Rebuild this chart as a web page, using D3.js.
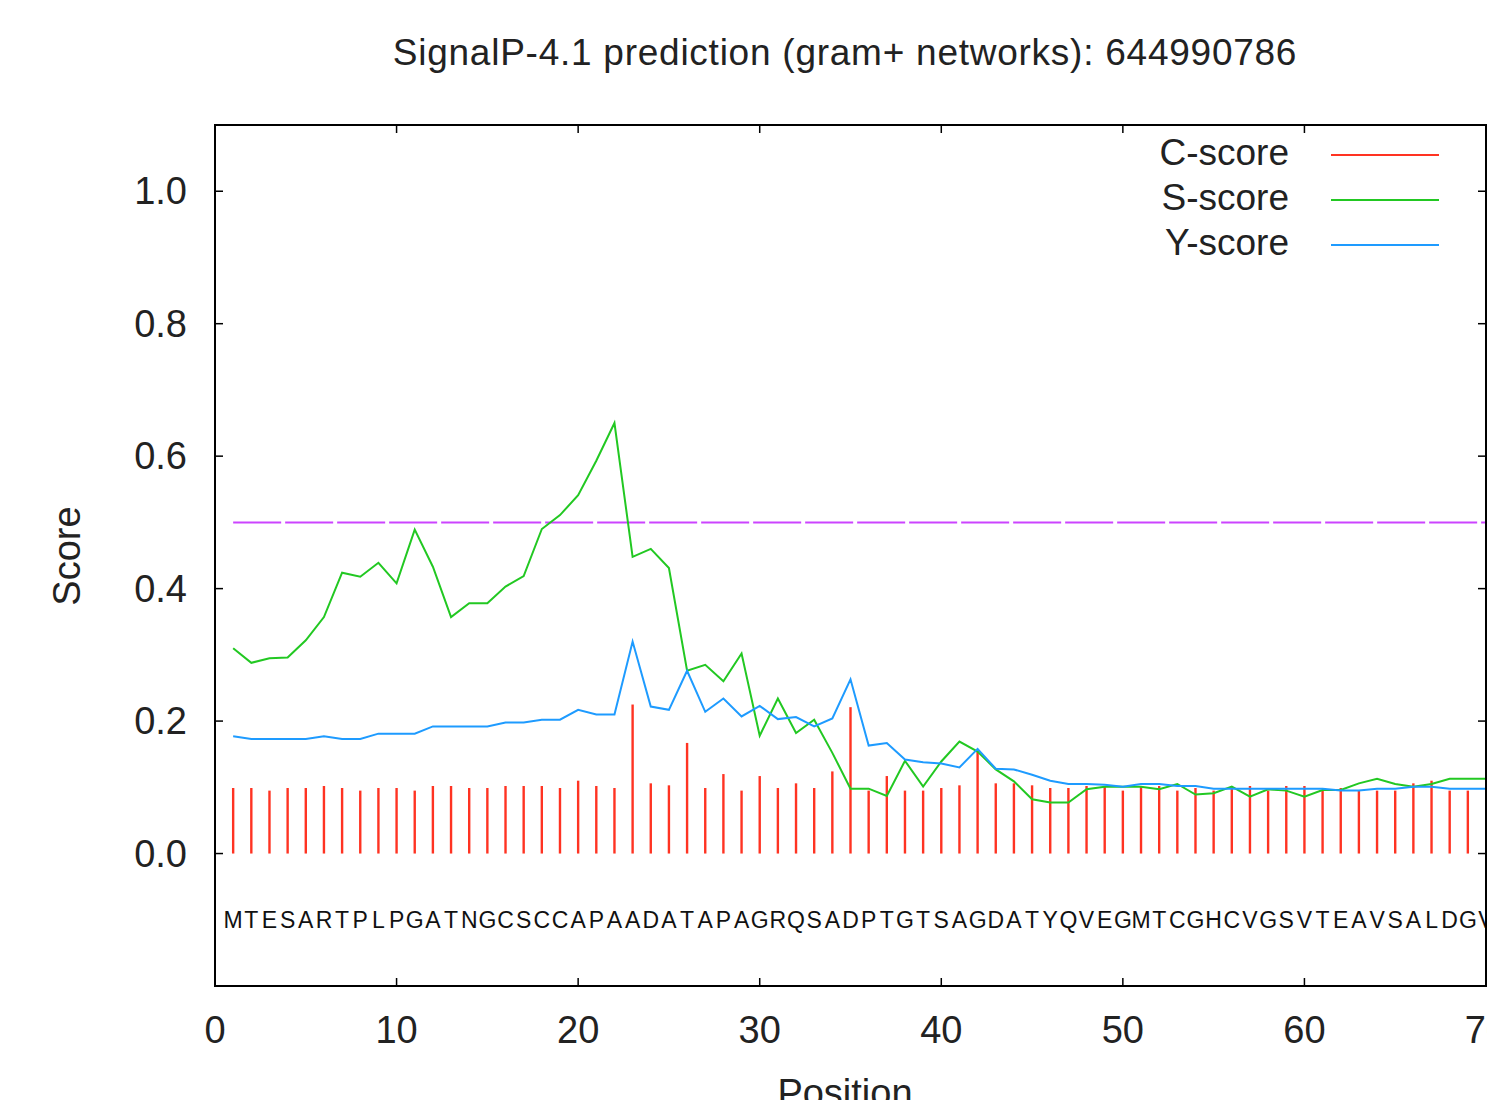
<!DOCTYPE html>
<meta charset="utf-8">
<head>
    <script src="https://d3js.org/d3.v7.min.js"></script>
    <style>
        body { margin: 0; background: #fff; }
        text { font-family: "Liberation Sans", Arial, sans-serif; fill: #222; }
    </style>
</head>
<body>
<div id="main"></div>

<script>
    // amino acid sequence, one letter per position
    const sequence = "MTESARTPLPGATNGCSCCAPAADATAPAGRQSADPTGTSAGDATYQVEGMTCGHCVGSVTEAVSALDGV".split("")

    // C-score (positions 1..69)
    const cScore = [
        0.099, 0.099, 0.095, 0.099, 0.099, 0.102, 0.099, 0.095, 0.099, 0.099,
        0.095, 0.102, 0.102, 0.099, 0.099, 0.102, 0.102, 0.102, 0.099, 0.110,
        0.102, 0.099, 0.225, 0.106, 0.103, 0.167, 0.099, 0.120, 0.095, 0.117,
        0.099, 0.106, 0.099, 0.124, 0.221, 0.095, 0.117, 0.095, 0.095, 0.099,
        0.103, 0.157, 0.106, 0.106, 0.103, 0.099, 0.099, 0.102, 0.102, 0.095,
        0.102, 0.102, 0.095, 0.099, 0.095, 0.102, 0.102, 0.095, 0.102, 0.102,
        0.095, 0.099, 0.095, 0.095, 0.095, 0.106, 0.110, 0.095, 0.095
    ]

    // S-score (positions 1..70)
    const sScore = [
        0.310, 0.288, 0.295, 0.296, 0.322, 0.357, 0.424, 0.418, 0.439, 0.408,
        0.489, 0.433, 0.357, 0.378, 0.378, 0.403, 0.419, 0.490, 0.511, 0.541,
        0.593, 0.650, 0.448, 0.460, 0.431, 0.276, 0.285, 0.260, 0.302, 0.178,
        0.234, 0.182, 0.202, 0.152, 0.098, 0.098, 0.087, 0.140, 0.101, 0.139,
        0.169, 0.154, 0.127, 0.109, 0.082, 0.077, 0.077, 0.097, 0.101, 0.101,
        0.101, 0.097, 0.105, 0.089, 0.091, 0.101, 0.086, 0.097, 0.095, 0.086,
        0.096, 0.096, 0.106, 0.113, 0.105, 0.101, 0.105, 0.113, 0.113, 0.113
    ]

    // Y-score (positions 1..70)
    const yScore = [
        0.177, 0.173, 0.173, 0.173, 0.173, 0.177, 0.173, 0.173, 0.181, 0.181,
        0.181, 0.192, 0.192, 0.192, 0.192, 0.198, 0.198, 0.202, 0.202, 0.217,
        0.210, 0.210, 0.320, 0.222, 0.217, 0.276, 0.214, 0.234, 0.207, 0.223,
        0.203, 0.206, 0.192, 0.204, 0.263, 0.163, 0.167, 0.142, 0.138, 0.136,
        0.130, 0.158, 0.128, 0.127, 0.119, 0.110, 0.105, 0.105, 0.104, 0.101,
        0.105, 0.105, 0.102, 0.102, 0.098, 0.098, 0.098, 0.098, 0.098, 0.098,
        0.098, 0.095, 0.095, 0.098, 0.098, 0.101, 0.101, 0.098, 0.098, 0.098
    ]

    const cutoff = 0.5
    const xTicks = [0, 10, 20, 30, 40, 50, 60, 70]
    const yTicks = [0.0, 0.2, 0.4, 0.6, 0.8, 1.0]
    const legendLabels = ["C-score", "S-score", "Y-score"]
    const colors = ["#ff3322", "#22c822", "#1e9bff"]

    const width = 1487, height = 1100
    const plotLeft = 215, plotTop = 125, plotRight = 1486, plotBottom = 986

    const svg = d3.select("#main").append("svg")
        .attr("width", width)
        .attr("height", height)

    const x = d3.scaleLinear().domain([0, 70]).range([plotLeft, plotRight])
    const y = d3.scaleLinear().domain([-0.2, 1.1]).range([plotBottom, plotTop])

    // title
    svg.append("text")
        .attr("x", 845)
        .attr("y", 65)
        .attr("text-anchor", "middle")
        .style("font-size", "37px")
        .style("letter-spacing", "0.75px")
        .text("SignalP-4.1 prediction (gram+ networks): 644990786")

    // ticks, mirrored and pointing inward
    const tickLen = 8
    const ticks = svg.append("g").attr("stroke", "#000").attr("stroke-width", 1.5)
    xTicks.forEach(t => {
        ticks.append("line").attr("x1", x(t)).attr("x2", x(t)).attr("y1", plotBottom).attr("y2", plotBottom - tickLen)
        ticks.append("line").attr("x1", x(t)).attr("x2", x(t)).attr("y1", plotTop).attr("y2", plotTop + tickLen)
    })
    yTicks.forEach(t => {
        ticks.append("line").attr("x1", plotLeft).attr("x2", plotLeft + tickLen).attr("y1", y(t)).attr("y2", y(t))
        ticks.append("line").attr("x1", plotRight).attr("x2", plotRight - tickLen).attr("y1", y(t)).attr("y2", y(t))
    })

    svg.selectAll(".xlab")
        .data(xTicks)
        .enter()
        .append("text")
        .attr("class", "xlab")
        .attr("x", d => x(d))
        .attr("y", 1043)
        .attr("text-anchor", "middle")
        .style("font-size", "38px")
        .text(d => d)

    svg.selectAll(".ylab")
        .data(yTicks)
        .enter()
        .append("text")
        .attr("class", "ylab")
        .attr("x", 187)
        .attr("y", d => y(d) + 13)
        .attr("text-anchor", "end")
        .style("font-size", "38px")
        .text(d => d3.format(".1f")(d))

    svg.append("text")
        .attr("transform", "translate(80, 556) rotate(-90)")
        .attr("text-anchor", "middle")
        .style("font-size", "38px")
        .text("Score")

    svg.append("text")
        .attr("x", 845)
        .attr("y", 1106)
        .attr("text-anchor", "middle")
        .style("font-size", "38px")
        .text("Position")

    // cutoff line
    svg.append("line")
        .attr("x1", x(1))
        .attr("x2", plotRight)
        .attr("y1", y(cutoff))
        .attr("y2", y(cutoff))
        .attr("stroke", "#cc44ff")
        .attr("stroke-width", 2)
        .attr("stroke-dasharray", "48,4")

    // C-score impulses
    svg.selectAll(".cbar")
        .data(cScore)
        .enter()
        .append("line")
        .attr("class", "cbar")
        .attr("x1", (d, i) => x(i + 1))
        .attr("x2", (d, i) => x(i + 1))
        .attr("y1", y(0))
        .attr("y2", d => y(d))
        .attr("stroke", colors[0])
        .attr("stroke-width", 2.4)

    const line = d3.line()
        .x((d, i) => x(i + 1))
        .y(d => y(d))

    svg.append("path")
        .datum(sScore)
        .attr("fill", "none")
        .attr("stroke", colors[1])
        .attr("stroke-width", 2)
        .attr("d", line)

    svg.append("path")
        .datum(yScore)
        .attr("fill", "none")
        .attr("stroke", colors[2])
        .attr("stroke-width", 2)
        .attr("d", line)

    // sequence letters
    svg.selectAll(".aa")
        .data(sequence)
        .enter()
        .append("text")
        .attr("class", "aa")
        .attr("x", (d, i) => x(i + 1))
        .attr("y", 928)
        .attr("text-anchor", "middle")
        .style("font-size", "23px")
        .style("fill", "#111")
        .text(d => d)

    // legend
    legendLabels.forEach((lab, i) => {
        const ly = 155 + i * 45
        svg.append("text")
            .attr("x", 1289)
            .attr("y", ly + 10)
            .attr("text-anchor", "end")
            .style("font-size", "37px")
            .text(lab)
        svg.append("line")
            .attr("x1", 1331)
            .attr("x2", 1439)
            .attr("y1", ly)
            .attr("y2", ly)
            .attr("stroke", colors[i])
            .attr("stroke-width", 2)
    })

    // frame
    svg.append("rect")
        .attr("x", plotLeft)
        .attr("y", plotTop)
        .attr("width", plotRight - plotLeft)
        .attr("height", plotBottom - plotTop)
        .attr("fill", "none")
        .attr("stroke", "#000")
        .attr("stroke-width", 2)
</script>
</body>
